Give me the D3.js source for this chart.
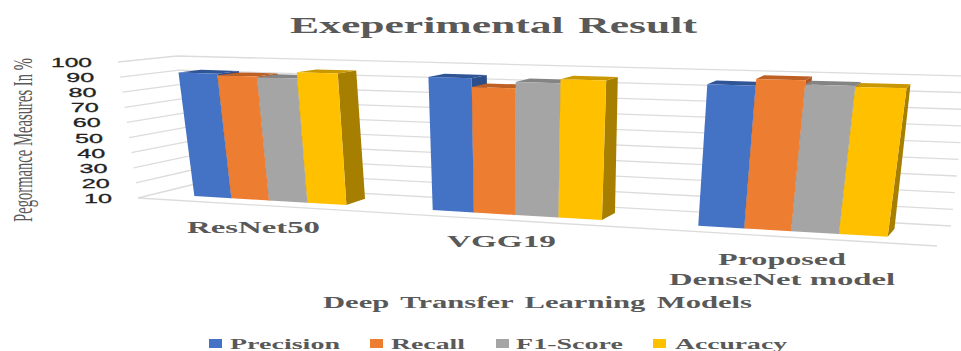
<!DOCTYPE html>
<html>
<head>
<meta charset="utf-8">
<script src="https://cdn.jsdelivr.net/npm/d3@7/dist/d3.min.js"></script>
<style>
html,body{margin:0;padding:0;background:#fff;overflow:hidden}
svg{display:block}
</style>
</head>
<body>
<svg id="chart" width="961" height="351"></svg>
<script>
// Chart values
const categories = ["ResNet50", "VGG19", "Proposed DenseNet model"];
const seriesNames = ["Precision", "Recall", "F1-Score", "Accuracy"];
const precision = [92.5, 94.5, 95];
const recall = [91.5, 89, 99];
const f1Score = [91, 93, 96.5];
const accuracy = [95, 95.5, 96];
const yTicks = [10, 20, 30, 40, 50, 60, 70, 80, 90, 100];

const seriesValues = [precision, recall, f1Score, accuracy];
const frontColors = ["#4472C4", "#ED7D31", "#A5A5A5", "#FFC000"];
const topColors = ["#2F5597", "#BE5F24", "#848484", "#C99700"];
const sideColors = ["#2C4F8C", "#AE5720", "#777777", "#A67F00"];
const ink = "#595959";

// Corners of the oblique plot box: floor and ceiling, front and back
const box = {
  frontBottomL: [138, 198], frontBottomR: [937, 246],
  frontTopL: [118, 62], frontTopR: [962, 86],
  backBottomL: [195, 184], backBottomR: [951, 226],
  backTopL: [177, 56], backTopR: [968, 76]
};
const lerp = (a, b, f) => [a[0] + (b[0] - a[0]) * f, a[1] + (b[1] - a[1]) * f];

// Foreshortening along the category direction
const foreshorten = t => 0.848 * t / (1 - 0.152 * t);

const xBand = d3.scaleBand().domain(categories).range([0, 1]).paddingInner(0.35).paddingOuter(0.175);
const xSeries = d3.scaleBand().domain(seriesNames).range([0, xBand.bandwidth()]);
const yValue = d3.scaleLinear().domain([10, 100]).range([0, 1]);
const depthFront = 0.3, depthBack = 0.7;

function project(t, value, depth) {
  const u = foreshorten(t), h = yValue(value);
  const front = lerp(lerp(box.frontBottomL, box.frontBottomR, u), lerp(box.frontTopL, box.frontTopR, u), h);
  const back = lerp(lerp(box.backBottomL, box.backBottomR, u), lerp(box.backTopL, box.backTopR, u), h);
  return lerp(front, back, depth);
}

const svg = d3.select("#chart");
const line = d3.line();
const gridColor = "#dcdcdc";

// Walls: gridlines run along the left wall and then the back wall
const grid = svg.append("g").attr("fill", "none").attr("stroke", gridColor).attr("stroke-width", 1.3);
grid.selectAll("path").data(yTicks).join("path")
  .attr("d", v => line([project(0, v, 0), project(0, v, 1), project(1, v, 1)]));
grid.append("path").attr("d", line([project(0, 10, 0), project(1, 10, 0)]));

// Bars: side and top faces first, then the front face
const barGroup = svg.append("g");
categories.forEach((cat, ci) => {
  seriesNames.forEach((name, si) => {
    const value = seriesValues[si][ci];
    const t0 = xBand(cat) + xSeries(name);
    const t1 = t0 + xSeries.bandwidth();
    const face = (pts, fill) => barGroup.append("path")
      .attr("d", line(pts) + "Z").attr("fill", fill);
    face([project(t1, 10, depthFront), project(t1, 10, depthBack),
          project(t1, value, depthBack), project(t1, value, depthFront)], sideColors[si]);
    face([project(t0, value, depthFront), project(t1, value, depthFront),
          project(t1, value, depthBack), project(t0, value, depthBack)], topColors[si]);
    face([project(t0, 10, depthFront), project(t1, 10, depthFront),
          project(t1, value, depthFront), project(t0, value, depthFront)], frontColors[si]);
  });
});

// Text drawn to a set width, since the lettering is wider than the face's natural proportions
function label(x, y, text, width, size, opts = {}) {
  return svg.append("text")
    .attr("x", x).attr("y", y)
    .attr("textLength", width).attr("lengthAdjust", "spacingAndGlyphs")
    .attr("font-family", opts.family || "Liberation Serif")
    .attr("font-weight", opts.weight || "bold")
    .attr("font-size", size)
    .attr("fill", opts.fill || ink)
    .text(text);
}

// Value axis labels follow the front left edge
yTicks.forEach(v => {
  const [px, py] = project(0, v, 0);
  const w = String(v).length === 3 ? 41 : 28;
  label(px - 26 - w, py + 5, String(v), w, 13, { family: "Liberation Sans", weight: "normal", fill: "#222" })
    .attr("stroke", "#222").attr("stroke-width", 0.3);
});

label(290, 33, "Exeperimental Result", 407, 24).attr("word-spacing", 2);
label(187, 233, "ResNet50", 133, 17);
label(447, 247, "VGG19", 109, 17);
label(718, 265, "Proposed", 128, 16);
label(669, 285, "DenseNet model", 226, 16);
label(323, 308, "Deep Transfer Learning Models", 429, 16).attr("word-spacing", 2);

// Axis title, turned to read upwards and squeezed along its length
const yTitle = svg.append("text")
  .attr("font-family", "Liberation Serif").attr("font-size", 28).attr("fill", ink)
  .text("Pegormance Measures In %");
const squeeze = 164 / yTitle.node().getComputedTextLength();
yTitle.attr("transform", `translate(32,222) rotate(-90) scale(${squeeze},1)`);

// Legend
const legendSwatchX = [209, 370, 496, 653];
const legendTextX = [230, 391, 516, 675];
const legendTextW = [110, 74, 107, 112];
seriesNames.forEach((name, i) => {
  svg.append("rect").attr("x", legendSwatchX[i]).attr("y", 339)
    .attr("width", 13).attr("height", 9).attr("fill", frontColors[i]);
  label(legendTextX[i], 349, name, legendTextW[i], 15);
});
</script>
</body>
</html>
